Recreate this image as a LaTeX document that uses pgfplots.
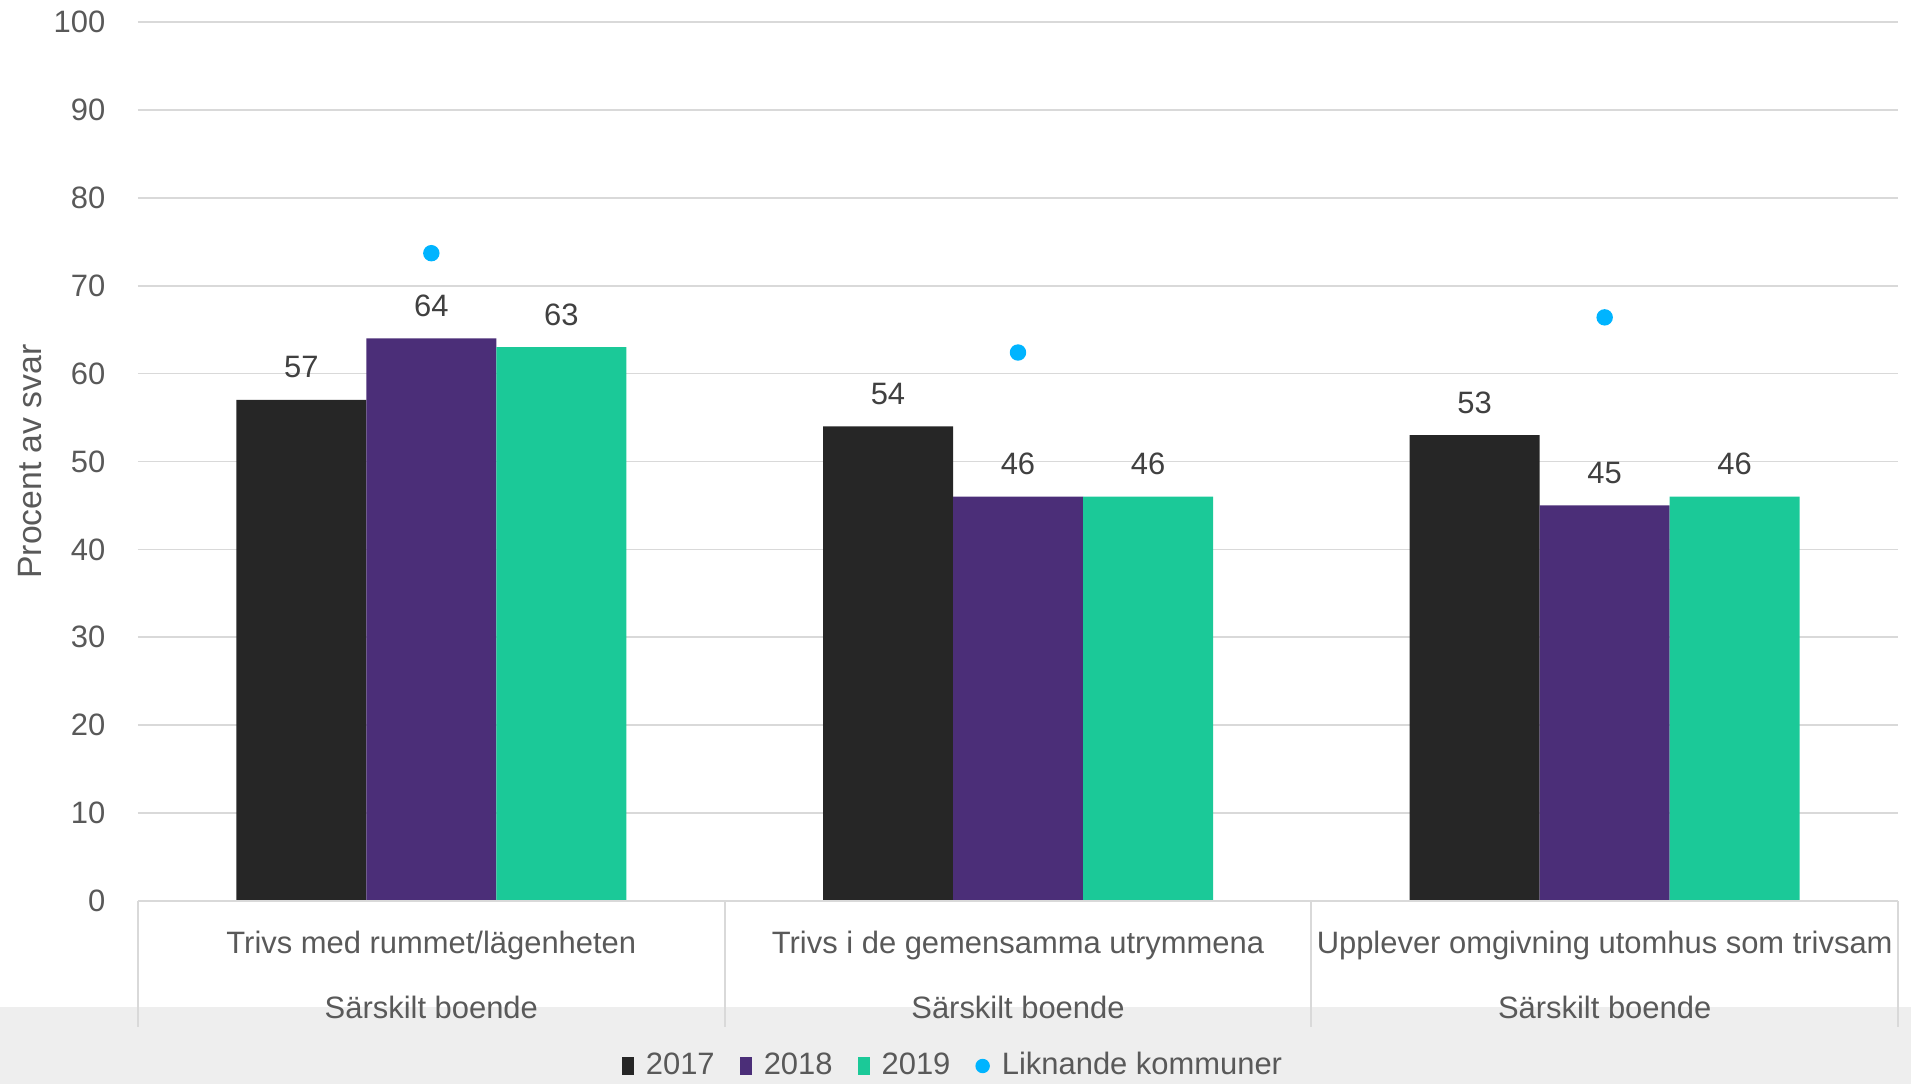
\documentclass[border=0pt]{standalone}
\usepackage{fontspec}
\setmainfont{Liberation Sans}
\usepackage{pgfplots}
\pgfplotsset{compat=1.18}
\definecolor{c2017}{HTML}{262626}
\definecolor{c2018}{HTML}{4B2E78}
\definecolor{c2019}{HTML}{1BC998}
\definecolor{dotblue}{HTML}{00B4FF}
\definecolor{gridgray}{HTML}{D9D9D9}
\definecolor{bandgray}{HTML}{EEEEEE}
\definecolor{tickgray}{HTML}{595959}
\definecolor{valgray}{HTML}{404040}
\newcommand{\lfont}{\fontsize{8.8}{10.5}\selectfont}
\pgfplotsset{sqlegend/.style={legend image code/.code={\fill[##1,draw=none] (0mm,-0.9mm) rectangle (1.2mm,0.9mm);}}}
\begin{document}
\begin{tikzpicture}
\path[use as bounding box] (-13.8mm,-18.3mm) rectangle (177.3mm,90.1mm);
\fill[bandgray] (-13.8mm,-18.3mm) rectangle (177.3mm,-10.6mm);
\begin{axis}[
  at={(0,0)}, anchor=south west,
  scale only axis, width=176mm, height=87.9mm,
  xmin=-0.5, xmax=2.5, ymin=0, ymax=100,
  ytick={0,10,...,100},
  xtick={0,1,2},
  xticklabels={Trivs med rummet/lägenheten, Trivs i de gemensamma utrymmena, Upplever omgivning utomhus som trivsam},
  ymajorgrids, grid style={color=gridgray, line width=0.5pt},
  axis line style={draw=none},
  major tick length=0pt,
  clip=false,
  ybar=0pt, bar width=13mm,
  /pgf/number format/assume math mode=true,
  yticklabel style={font=\lfont, text=tickgray, anchor=east, inner sep=0pt, xshift=-3.2mm},
  xticklabel style={font=\lfont, text=tickgray, anchor=base, inner sep=0pt, yshift=-5.2mm},
  ylabel={Procent av svar},
  ylabel style={font=\fontsize{9.6}{11}\selectfont, text=tickgray, at={(axis description cs:-0.0614,0.5)}, anchor=center},
  legend style={at={(axis description cs:0.4645,-0.1877)}, anchor=center, draw=none, fill=none,
    legend columns=-1, font=\lfont, text=tickgray,
    /tikz/every odd column/.append style={column sep=0.5mm},
    /tikz/every even column/.append style={column sep=1.8mm}},
  every node near coord/.append style={font=\lfont, text=valgray, anchor=south, inner sep=0pt, yshift=2.1mm},
]
\addplot[ybar, bar shift=-13mm, fill=c2017, draw=none, nodes near coords, sqlegend]
  coordinates {(0,57) (1,54) (2,53)};
\addplot[ybar, bar shift=0mm, fill=c2018, draw=none, nodes near coords, sqlegend]
  coordinates {(0,64) (1,46) (2,45)};
\addplot[ybar, bar shift=13mm, fill=c2019, draw=none, nodes near coords, sqlegend]
  coordinates {(0,63) (1,46) (2,46)};
\addplot[only marks, bar shift=0mm, mark=*, mark size=0.75mm, color=dotblue,
  legend image code/.code={\fill[dotblue] (0.6mm,0mm) circle[radius=0.65mm];}]
  coordinates {(0,73.7) (1,62.4) (2,66.4)};
\legend{2017,2018,2019,Liknande kommuner}
\draw[gridgray, line width=0.5pt] (rel axis cs:0,0) -- (rel axis cs:1,0);
\draw[gridgray, line width=0.5pt] (rel axis cs:0,0) -- ([yshift=-12.6mm]rel axis cs:0,0);
\draw[gridgray, line width=0.5pt] (rel axis cs:0.33333,0) -- ([yshift=-12.6mm]rel axis cs:0.33333,0);
\draw[gridgray, line width=0.5pt] (rel axis cs:0.66667,0) -- ([yshift=-12.6mm]rel axis cs:0.66667,0);
\draw[gridgray, line width=0.5pt] (rel axis cs:1,0) -- ([yshift=-12.6mm]rel axis cs:1,0);
\node[anchor=base, inner sep=0pt, font=\lfont, text=tickgray] at ([yshift=-11.7mm]axis cs:0,0) {Särskilt boende};
\node[anchor=base, inner sep=0pt, font=\lfont, text=tickgray] at ([yshift=-11.7mm]axis cs:1,0) {Särskilt boende};
\node[anchor=base, inner sep=0pt, font=\lfont, text=tickgray] at ([yshift=-11.7mm]axis cs:2,0) {Särskilt boende};
\end{axis}
\end{tikzpicture}
\end{document}
